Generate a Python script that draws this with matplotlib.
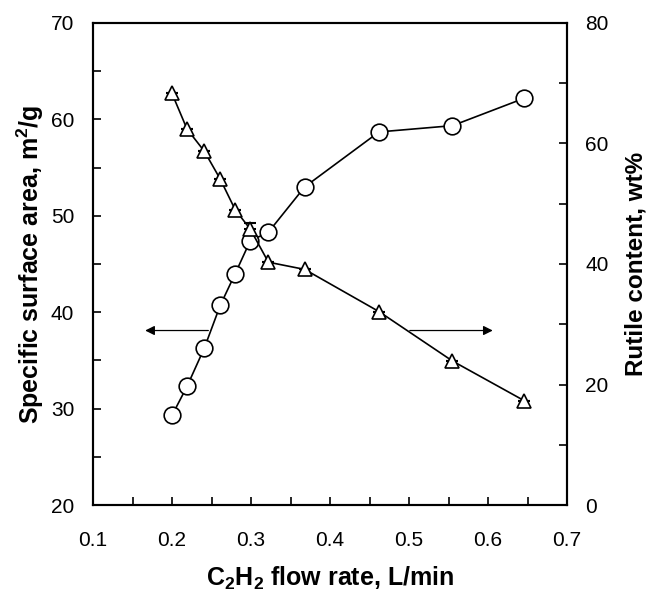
import matplotlib
matplotlib.use("Agg")
import matplotlib.pyplot as plt
from matplotlib.ticker import MultipleLocator

plt.rcParams['font.family'] = ['Liberation Sans', 'DejaVu Sans']
plt.rcParams['mathtext.fontset'] = 'custom'
plt.rcParams['mathtext.rm'] = 'Liberation Sans'
plt.rcParams['mathtext.bf'] = 'Liberation Sans:bold'

# Specific surface area (left axis, circles)
x_area = [0.200, 0.219, 0.241, 0.261, 0.280, 0.299, 0.322, 0.368, 0.462, 0.555, 0.646]
area = [29.3, 32.3, 36.3, 40.7, 44.0, 47.4, 48.3, 53.0, 58.7, 59.35, 62.2]

# Rutile content (right axis, triangles)
x_rutile = [0.200, 0.219, 0.241, 0.261, 0.280, 0.299, 0.322, 0.368, 0.462, 0.555, 0.646]
rutile = [68.3, 62.4, 58.7, 54.1, 49.0, 45.8, 40.3, 39.1, 32.1, 23.9, 17.3]
rutile_err_up = [0, 0, 0, 0, 0, 1.0, 0, 0, 0, 0, 0]

fig = plt.figure(figsize=(6.49, 5.91), dpi=100)
ax = fig.add_axes([0.1433, 0.1455, 0.8737 - 0.1433, 0.9611 - 0.1455])
ax2 = ax.twinx()

ax.plot(x_area, area, color='black', lw=1.2, marker='o', ms=12,
        mfc='white', mec='black', mew=1.2, zorder=3)
ax2.errorbar(x_rutile, rutile, yerr=[[0]*len(rutile), rutile_err_up], fmt='none',
             ecolor='black', elinewidth=1.2, capsize=4.5, capthick=1.5, zorder=2)
ax2.plot(x_rutile, rutile, color='black', lw=1.2, marker='^', ms=10,
         mfc='white', mec='black', mew=1.2, zorder=3)

ax.set_xlim(0.1, 0.7)
ax.set_ylim(20, 70)
ax2.set_ylim(0, 80)

ax.xaxis.set_major_locator(MultipleLocator(0.1))
ax.xaxis.set_minor_locator(MultipleLocator(0.05))
ax.yaxis.set_major_locator(MultipleLocator(10))
ax.yaxis.set_minor_locator(MultipleLocator(5))
ax2.yaxis.set_major_locator(MultipleLocator(20))
ax2.yaxis.set_minor_locator(MultipleLocator(10))

ax.set_xticklabels([f"{v:.1f}" for v in ax.get_xticks()])

for a in (ax, ax2):
    for s in a.spines.values():
        s.set_linewidth(1.5)
ax.tick_params(axis='x', which='both', direction='in', length=6, width=1.2,
               labelsize=15, pad=19, top=False)
ax.tick_params(axis='y', which='both', direction='in', length=6, width=1.2,
               labelsize=15, pad=13.5)
ax2.tick_params(axis='y', which='both', direction='in', length=6, width=1.2,
                labelsize=15, pad=13)

ax.set_xlabel(r'C$_\mathbf{2}$H$_\mathbf{2}$ flow rate, L/min',
              fontsize=18, fontweight='bold')
ax.xaxis.set_label_coords(0.5, -0.125)
ax.set_ylabel(r'Specific surface area, m$^\mathbf{2}$/g', fontsize=18, fontweight='bold')
ax.yaxis.set_label_coords(-0.1, 0.5)
ax2.set_ylabel('Rutile content, wt%', fontsize=17.5, fontweight='bold', rotation=90)
ax2.yaxis.set_label_coords(1.121, 0.5)

ax.annotate('', xy=(0.166, 38.1), xytext=(0.246, 38.1),
            arrowprops=dict(arrowstyle='-|>', color='black', lw=0.9,
                            mutation_scale=14, shrinkA=0, shrinkB=0))
ax.annotate('', xy=(0.606, 38.1), xytext=(0.501, 38.1),
            arrowprops=dict(arrowstyle='-|>', color='black', lw=0.9,
                            mutation_scale=14, shrinkA=0, shrinkB=0))

fig.savefig('out.png', dpi=100)
